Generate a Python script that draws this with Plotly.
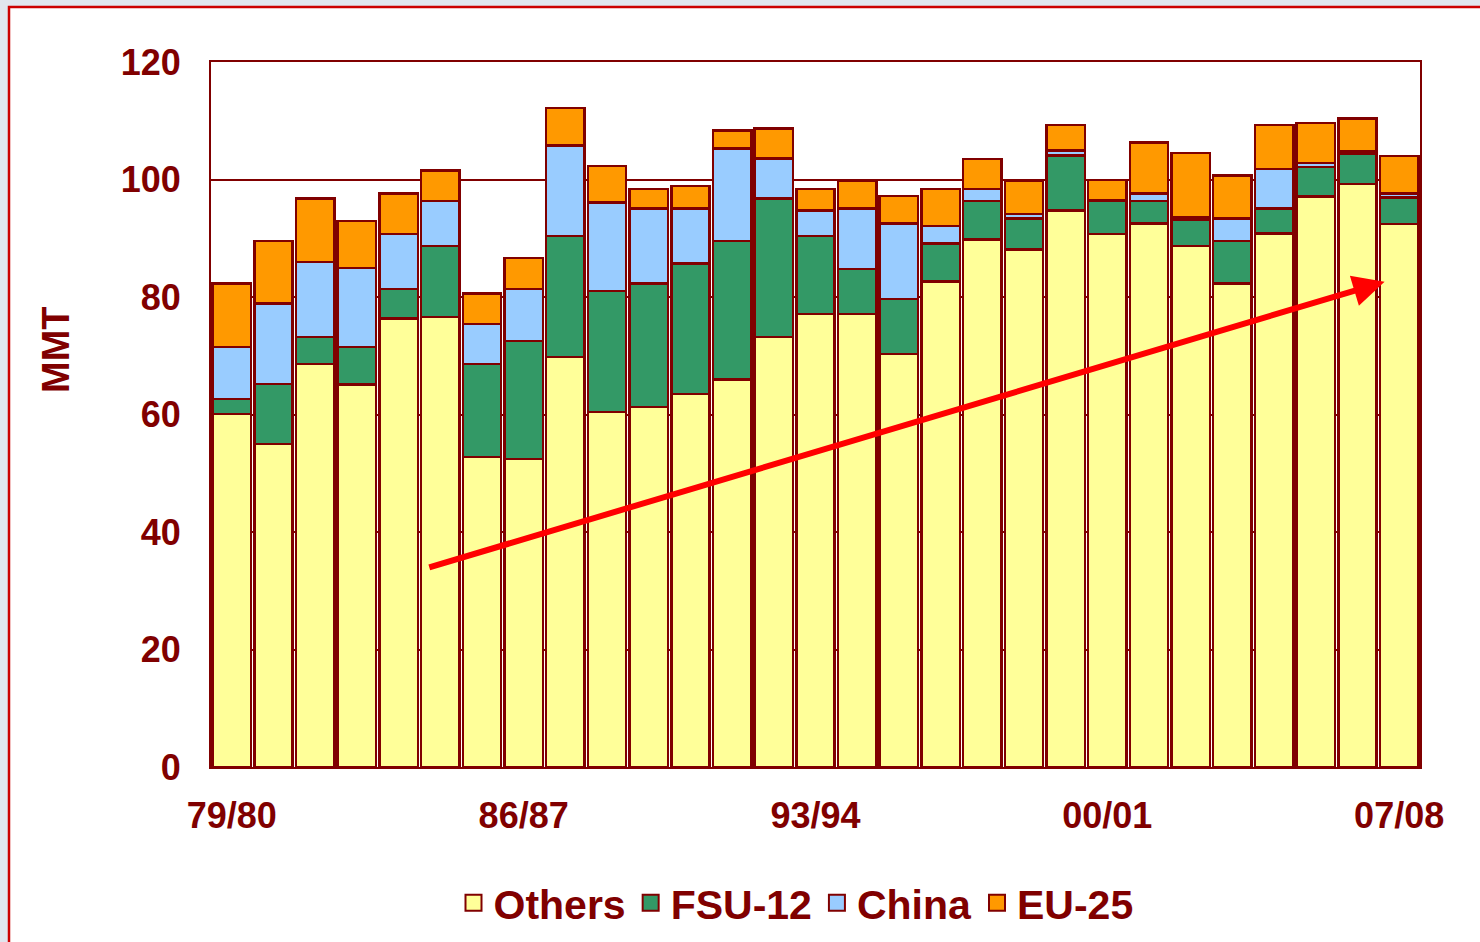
import plotly.graph_objects as go

seasons = ["79/80", "80/81", "81/82", "82/83", "83/84", "84/85", "85/86", "86/87",
           "87/88", "88/89", "89/90", "90/91", "91/92", "92/93", "93/94", "94/95",
           "95/96", "96/97", "97/98", "98/99", "99/00", "00/01", "01/02", "02/03",
           "03/04", "04/05", "05/06", "06/07", "07/08"]

others = [60.1, 55.0, 68.6, 65.1, 76.3, 76.6, 52.8, 52.4, 69.8, 60.4, 61.3, 63.5, 66.0, 73.2,
          77.1, 77.1, 70.3, 82.6, 89.8, 88.1, 94.7, 90.7, 92.5, 88.7, 82.3, 90.8, 97.1, 99.2, 92.4]
fsu12 = [2.5, 10.2, 4.6, 6.4, 5.1, 12.1, 15.8, 20.1, 20.6, 20.6, 21.0, 22.2, 23.5, 23.6,
         13.3, 7.7, 9.4, 6.5, 6.5, 5.3, 9.4, 5.7, 3.8, 4.5, 7.2, 4.3, 5.0, 5.2, 4.5]
china = [8.9, 13.7, 12.8, 13.4, 9.3, 7.6, 6.8, 8.9, 15.4, 15.1, 12.8, 9.4, 15.8, 6.8,
         4.3, 10.3, 12.8, 3.0, 2.1, 0.7, 0.8, 0.1, 1.3, 0.4, 3.9, 6.7, 0.7, 0.4, 0.7]
eu25 = [10.8, 10.6, 10.8, 8.0, 6.9, 5.2, 5.2, 5.2, 6.4, 6.2, 3.3, 3.8, 3.0, 5.1,
        3.7, 4.7, 4.7, 6.3, 5.1, 5.7, 4.4, 3.4, 8.7, 10.9, 7.3, 7.5, 6.8, 5.6, 6.4]

series_names = ["Others", "FSU-12", "China", "EU-25"]
series_values = [others, fsu12, china, eu25]
series_colors = ["#FFFF99", "#339966", "#99CCFF", "#FF9900"]

x_tick_labels = ["79/80", "86/87", "93/94", "00/01", "07/08"]
y_tick_values = [0, 20, 40, 60, 80, 100, 120]

# trend arrow (category index, value)
arrow_start = (4.70, 33.9)
arrow_end = (27.65, 82.6)

DARK = "#800000"
FONT = "Liberation Sans, Arial, sans-serif"

fig = go.Figure()
for name, vals, col in zip(series_names, series_values, series_colors):
    fig.add_trace(go.Bar(
        x=seasons, y=vals, name=name, showlegend=False,
        marker=dict(color=col, line=dict(color=DARK, width=2.5)),
    ))
# legend entries (bigger square swatches)
for name, col in zip(series_names, series_colors):
    fig.add_trace(go.Scatter(
        x=[None], y=[None], mode="markers", name=name,
        marker=dict(symbol="square", size=22, color=col, line=dict(color=DARK, width=2)),
    ))

fig.add_annotation(
    x=arrow_end[0], y=arrow_end[1], ax=arrow_start[0], ay=arrow_start[1],
    xref="x", yref="y", axref="x", ayref="y", text="", showarrow=True,
    arrowhead=2, arrowsize=1.05, arrowwidth=6, arrowcolor="#FF0000", standoff=0,
)

fig.add_annotation(
    text="MMT", textangle=-90, xref="paper", yref="paper",
    x=(56 - 211) / 1209, y=(767 - 350) / 705, xanchor="center", yanchor="middle",
    showarrow=False, font=dict(family=FONT, size=38, color=DARK, weight="bold"),
)

fig.add_shape(
    type="rect", xref="paper", yref="paper", layer="below",
    x0=(9 - 211) / 1209, x1=1.2, y0=-0.4, y1=(767 - 7) / 705,
    line=dict(color="#CC0000", width=2.5), fillcolor="white",
)

fig.update_layout(
    width=1480, height=942,
    margin=dict(l=211, r=60, t=62, b=175),
    barmode="stack", bargap=0.08,
    paper_bgcolor="#E1E6EE", plot_bgcolor="white",
    font=dict(family=FONT, color=DARK, weight="bold"),
    legend=dict(
        orientation="h", xref="paper", x=(796 - 211) / 1209, xanchor="center",
        yref="container", y=1 - 903 / 942, yanchor="middle",
        font=dict(family=FONT, size=41, color=DARK, weight="bold"),
        traceorder="normal", bgcolor="rgba(0,0,0,0)",
    ),
    xaxis=dict(
        type="category", categoryorder="array", categoryarray=seasons,
        range=[-0.5, len(seasons) - 0.5],
        tickvals=x_tick_labels, ticktext=x_tick_labels, ticks="",
        tickfont=dict(family=FONT, size=36, color=DARK, weight="bold"),
        showline=True, linecolor=DARK, linewidth=2, mirror=True,
        showgrid=False, ticklabelstandoff=16,
    ),
    yaxis=dict(
        range=[0, 120], tickvals=y_tick_values, ticks="",
        tickfont=dict(family=FONT, size=36, color=DARK, weight="bold"),
        showline=True, linecolor=DARK, linewidth=2, mirror=True,
        showgrid=True, gridcolor=DARK, gridwidth=1.5, zeroline=False,
        ticklabelstandoff=21,
    ),
)

fig.write_html(
    "out.html",
    config={"displayModeBar": False},
    post_script="document.body.style.margin='0';document.body.style.background='#E1E6EE';",
)
